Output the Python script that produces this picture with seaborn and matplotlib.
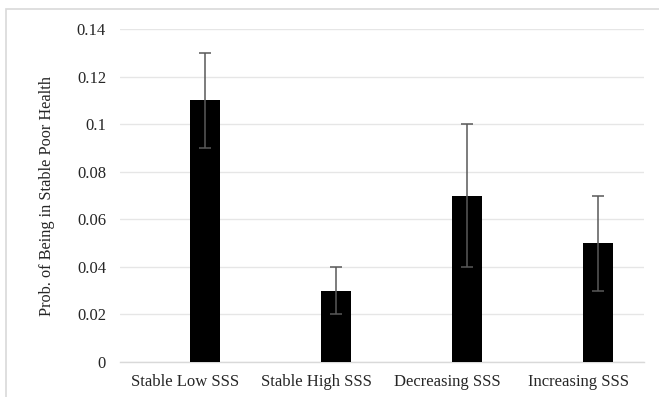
import numpy as np
import pandas as pd
import matplotlib
matplotlib.use("Agg")
import matplotlib.pyplot as plt
import matplotlib.patches as patches
import seaborn as sns

# values
groups = ["Stable Low SSS", "Stable High SSS", "Decreasing SSS", "Increasing SSS"]
prob = [0.11, 0.03, 0.07, 0.05]
ci_low = [0.09, 0.02, 0.04, 0.03]
ci_high = [0.13, 0.04, 0.10, 0.07]
yticks = [0, 0.02, 0.04, 0.06, 0.08, 0.1, 0.12, 0.14]
ytick_labels = ["0", "0.02", "0.04", "0.06", "0.08", "0.1", "0.12", "0.14"]

sns.set_style("white")
plt.rcParams["font.family"] = ["Liberation Serif", "DejaVu Serif"]

# excel style clustered bars: an empty first series pushes the bar right
df = pd.DataFrame({
    "group": groups * 2,
    "series": ["blank"] * 4 + ["prob"] * 4,
    "value": [0] * 4 + prob,
})

fig = plt.figure(figsize=(6.59, 3.97), dpi=100)
ax = fig.add_axes([120 / 659, 1 - 362 / 397, 524 / 659, 333 / 397])

sns.barplot(data=df, x="group", y="value", hue="series", hue_order=["blank", "prob"],
            palette={"blank": "white", "prob": "black"}, width=0.584, gap=0.21,
            linewidth=0, saturation=1, errorbar=None, legend=False, ax=ax, zorder=3)

bars = ax.containers[1]
xs = [b.get_x() + b.get_width() / 2 for b in bars]
err = [np.array(prob) - np.array(ci_low), np.array(ci_high) - np.array(prob)]
ax.errorbar(xs, prob, yerr=err, fmt="none", ecolor="#595959", elinewidth=1.1,
            capsize=4, capthick=1.1, zorder=4)

ax.set_xlim(-0.5, 3.5)
ax.set_ylim(0, 0.14)
ax.set_yticks(yticks)
ax.set_yticklabels(ytick_labels)
ax.yaxis.grid(True, color="#e6e6e6", linewidth=1)
ax.set_axisbelow(True)
for s in ["left", "right", "top"]:
    ax.spines[s].set_visible(False)
ax.spines["bottom"].set_color("#d9d9d9")
ax.spines["bottom"].set_linewidth(1)
ax.tick_params(axis="y", length=0, pad=10, labelsize=12)
ax.tick_params(axis="x", length=0, pad=9, labelsize=12)
ax.set_xlabel("")
ax.set_ylabel("Prob. of Being in Stable Poor Health", fontsize=11.7, labelpad=16)

# chart-area frame, cut off at the right and bottom
fig.patches.append(patches.Rectangle((6 / 659, -0.1), 1.2, 1 - 9 / 397 + 0.1,
                                     transform=fig.transFigure, fill=False,
                                     edgecolor="#d9d9d9", linewidth=1.2))

fig.savefig("out.png", dpi=100)
